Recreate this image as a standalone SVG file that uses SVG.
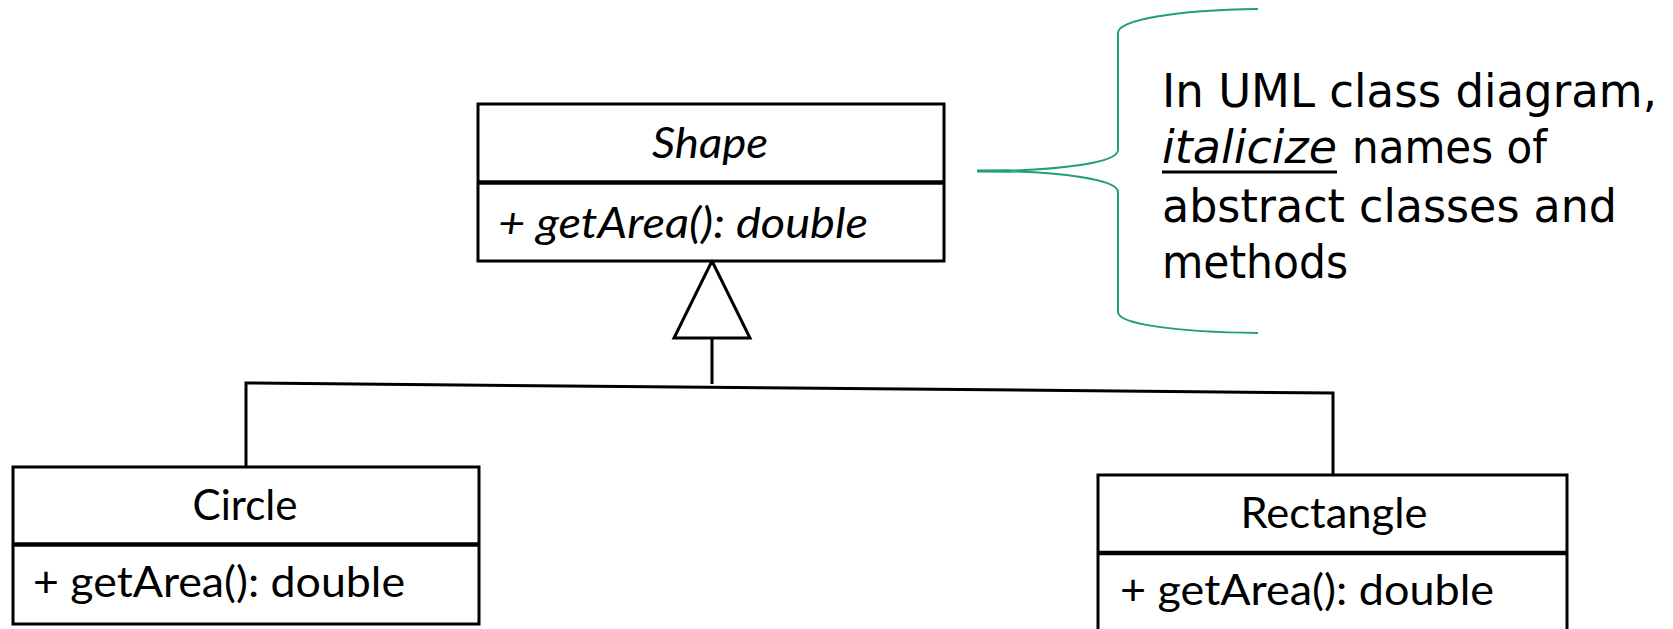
<svg xmlns="http://www.w3.org/2000/svg" width="1673" height="629" viewBox="0 0 1673 629">
<style>
.box{fill:#fff;stroke:#000;stroke-width:3}
.div{stroke:#000;stroke-width:4.5}
.lbl{font-family:Lato,"Open Sans","Liberation Sans",sans-serif;font-size:42px;fill:#000}
.it{font-style:italic}
.note{font-family:"DejaVu Sans","Liberation Sans",sans-serif;font-size:46px;fill:#000}
.conn{fill:none;stroke:#000;stroke-width:3}
</style>
<rect width="1673" height="629" fill="#fff"/>
<g id="connectors">
<path class="conn" d="M712,338 L712,384 M246,466 L246,383 L1333,393 L1333,475"/>
<polygon points="712,261 674,338 750,338" fill="#fff" stroke="#000" stroke-width="3" stroke-linejoin="miter"/>
</g>
<g id="shape">
<rect class="box" x="478" y="104" width="466" height="157"/>
<line class="div" x1="478" y1="182.5" x2="944" y2="182.5"/>
<text class="lbl it" x="710" y="158" text-anchor="middle" textLength="116" lengthAdjust="spacingAndGlyphs">Shape</text>
<text class="lbl it" x="498" y="238" textLength="370" lengthAdjust="spacingAndGlyphs">+ getArea(): double</text>
</g>
<g id="circle">
<rect class="box" x="13" y="467" width="466" height="157"/>
<line class="div" x1="13" y1="544.5" x2="479" y2="544.5"/>
<text class="lbl" x="245" y="520" text-anchor="middle" textLength="105" lengthAdjust="spacingAndGlyphs">Circle</text>
<text class="lbl" x="33" y="597" textLength="372" lengthAdjust="spacingAndGlyphs">+ getArea(): double</text>
</g>
<g id="rectangle">
<rect class="box" x="1098" y="475" width="469" height="170"/>
<line class="div" x1="1098" y1="553" x2="1567" y2="553"/>
<text class="lbl" x="1334" y="528" text-anchor="middle" textLength="187" lengthAdjust="spacingAndGlyphs">Rectangle</text>
<text class="lbl" x="1120" y="605" textLength="374" lengthAdjust="spacingAndGlyphs">+ getArea(): double</text>
</g>
<g id="note">
<path d="M1258,9 C1175,10 1118,20 1118,33 L1118,150 C1118,162 1065,171 977,171 C1065,171 1118,180 1118,192 L1118,312 C1118,324 1175,332 1258,333" fill="none" stroke="#1f9e7a" stroke-width="2"/>
<line x1="977" y1="171" x2="1010" y2="171" stroke="#1f9e7a" stroke-width="3"/>
<text class="note" x="1162" y="107" textLength="495" lengthAdjust="spacingAndGlyphs">In UML class diagram,</text>
<text class="note it" x="1162" y="163" textLength="175" lengthAdjust="spacingAndGlyphs">italicize</text>
<text class="note" x="1352" y="163" textLength="195" lengthAdjust="spacingAndGlyphs">names of</text>
<line x1="1162" y1="172" x2="1337" y2="172" stroke="#000" stroke-width="3"/>
<text class="note" x="1162" y="222" textLength="455" lengthAdjust="spacingAndGlyphs">abstract classes and</text>
<text class="note" x="1162" y="278" textLength="186" lengthAdjust="spacingAndGlyphs">methods</text>
</g>
</svg>
